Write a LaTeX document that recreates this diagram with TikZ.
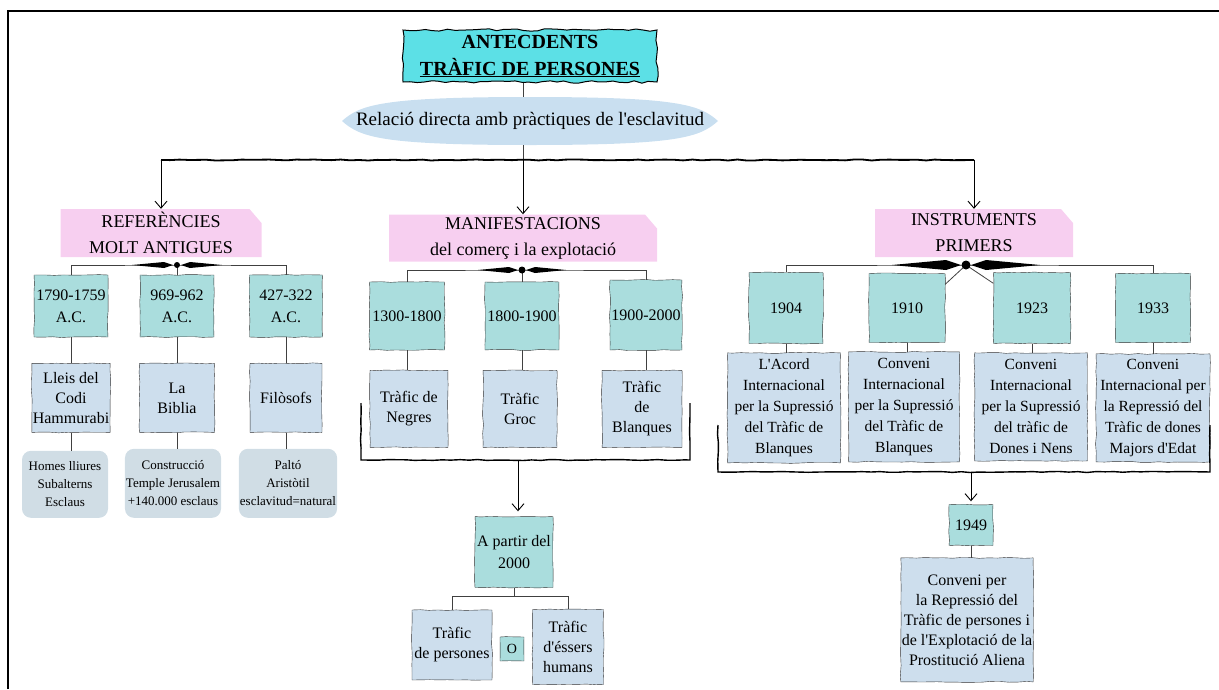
\documentclass[tikz,border=0pt]{standalone}
\usepackage{fontspec}
\setmainfont{Liberation Serif}
\usetikzlibrary{positioning}
\usetikzlibrary{arrows.meta}
\usetikzlibrary{decorations.pathmorphing}
\definecolor{titlecol}{RGB}{92,224,230}
\definecolor{lenscol}{RGB}{201,223,240}
\definecolor{headcol}{RGB}{247,207,240}
\definecolor{datecol}{RGB}{170,221,221}
\definecolor{desccol}{RGB}{205,222,237}
\definecolor{notecol}{RGB}{208,221,229}
\pgfmathsetseed{7}

\begin{document}
\begin{tikzpicture}[x=1pt, y=-1pt,
    sketch/.style = {decorate, decoration={random steps, segment length=9pt, amplitude=0.5pt}},
    title/.style = {draw, fill=titlecol, line width=1pt, decorate, decoration={random steps, segment length=7pt, amplitude=1.2pt}, minimum width=254pt, minimum height=52pt, inner sep=0pt, align=center, font=\bfseries\fontsize{20}{27}\selectfont},
    lens/.style = {minimum width=376pt, minimum height=48pt, inner sep=0pt, font=\fontsize{19}{22}\selectfont,
        path picture={\fill[lenscol] (path picture bounding box.west) .. controls ([xshift=18pt,yshift=16pt]path picture bounding box.west) and ([xshift=-150pt]path picture bounding box.north) .. (path picture bounding box.north) .. controls ([xshift=150pt]path picture bounding box.north) and ([xshift=-18pt,yshift=16pt]path picture bounding box.east) .. (path picture bounding box.east) .. controls ([xshift=-18pt,yshift=-16pt]path picture bounding box.east) and ([xshift=150pt]path picture bounding box.south) .. (path picture bounding box.south) .. controls ([xshift=-150pt]path picture bounding box.south) and ([xshift=18pt,yshift=-16pt]path picture bounding box.west) .. (path picture bounding box.west);}},
    head/.style = {inner sep=0pt, align=center, font=\fontsize{18}{26}\selectfont,
        path picture={\fill[headcol] (path picture bounding box.south west) -- (path picture bounding box.north west) -- ([xshift=-12pt]path picture bounding box.north east) -- ([yshift=-14pt]path picture bounding box.north east) -- (path picture bounding box.south east) -- cycle;}},
    date/.style = {draw=black!80, fill=datecol, sketch, inner sep=1pt, align=center, font=\fontsize{16}{22}\selectfont},
    desc/.style = {draw=black!80, fill=desccol, sketch, inner sep=1pt, align=center, font=\fontsize{16}{20}\selectfont},
    inst/.style = {desc, font=\fontsize{15.5}{21}\selectfont},
    note/.style = {fill=notecol, rounded corners=9pt, inner sep=1pt, align=center, font=\fontsize{13}{18}\selectfont},
    link/.style = {draw=black!75, line width=0.8pt},
    arr/.style = {-{Straight Barb[length=7pt,width=12pt]}, line width=0.9pt},
    bar/.style = {line width=1.8pt, sketch},
    brk/.style = {line width=1.4pt, sketch}]

    \useasboundingbox (0,0) rectangle (1219,689);
    \draw[line width=2.5pt] (8,689) -- (8,11) -- (1219,11);

    \node[title] (T) at (530,56) {ANTECDENTS\\\underline{TRÀFIC DE PERSONES}};
    \node[lens] (L) at (530,121) {Relació directa amb pràctiques de l\textquotesingle esclavitud};
    \coordinate (split) at (523,160);

    \node[head, minimum width=201pt, minimum height=48pt] (H1) at (161,233) {REFERÈNCIES\\MOLT ANTIGUES};
    \node[head, minimum width=268pt, minimum height=47pt] (H2) at (523,238) {MANIFESTACIONS\\del comerç i la explotació};
    \node[head, minimum width=198pt, minimum height=48pt] (H3) at (974,233) {INSTRUMENTS\\PRIMERS};

    \draw[link] (T.south -| split) -- (L.north -| split);
    \draw[link] (L.south -| split) -- (split);
    \draw[bar] (H1.north |- split) -- (H3.north |- split);
    \draw[arr] (H1.north |- split) -- (H1.north);
    \draw[arr] (split) -- (H2.north);
    \draw[arr] (H3.north |- split) -- (H3.north);

    \node[date, minimum width=74pt, minimum height=62pt] (D11) at (71,306) {1790-1759\\A.C.};
    \node[date, minimum width=74pt, minimum height=62pt] (D12) at (177,306) {969-962\\A.C.};
    \node[date, minimum width=73pt, minimum height=62pt] (D13) at (286,306) {427-322\\A.C.};
    \node[desc, minimum width=74pt, minimum height=69pt] (E11) [below=26pt of D11] {Lleis del\\Codi\\Hammurabi};
    \node[desc, minimum width=75pt, minimum height=69pt] (E12) [below=26pt of D12] {La\\Biblia};
    \node[desc, minimum width=72pt, minimum height=69pt] (E13) [below=26pt of D13] {Filòsofs};
    \node[note, minimum width=86pt, minimum height=67pt] (N11) [below=18pt of E11, xshift=-6pt] {Homes lliures\\Subalterns\\Esclaus};
    \node[note, minimum width=90pt, minimum height=69pt] (N12) [below=16pt of E12, xshift=-4pt] {Construcció\\Temple Jerusalem\\+140.000 esclaus};
    \node[note, minimum width=96pt, minimum height=69pt] (N13) [below=16pt of E13, xshift=2pt] {Paltó\\Aristòtil\\esclavitud=natural};

    \coordinate (h1) at (177,265);
    \draw[link] (D11.north) |- (h1) -| (D13.north);
    \draw[link] (h1) -- (D12.north);
    \fill ([xshift=-4pt]h1) -- ([xshift=-13pt,yshift=3pt]h1) -- ([xshift=-45pt]h1) -- ([xshift=-13pt,yshift=-3pt]h1) -- cycle;
    \fill ([xshift=4pt]h1) -- ([xshift=13pt,yshift=3pt]h1) -- ([xshift=45pt]h1) -- ([xshift=13pt,yshift=-3pt]h1) -- cycle;
    \fill (h1) circle (3pt);
    \draw[link] (D11) -- (E11);
    \draw[link] (D12) -- (E12);
    \draw[link] (D13) -- (E13);
    \draw[link] (E11.south) -- (E11.south |- N11.north);
    \draw[link] (E12.south) -- (E12.south |- N12.north);
    \draw[link] (E13.south) -- (E13.south |- N13.north);

    \node[date, minimum width=75pt, minimum height=68pt] (M1) at (407,316) {1300-1800};
    \node[date, minimum width=74pt, minimum height=68pt] (M2) at (522,316) {1800-1900};
    \node[date, minimum width=72pt, minimum height=70pt] (M3) at (646,315) {1900-2000};
    \node[desc, minimum width=78pt, minimum height=77pt] (G1) [below=20pt of M1, xshift=2pt] {Tràfic de\\Negres};
    \node[desc, minimum width=74pt, minimum height=77pt] (G2) [below=20pt of M2, xshift=-2pt] {Tràfic\\Groc};
    \node[desc, minimum width=80pt, minimum height=77pt] (G3) [below=20pt of M3, xshift=-4pt] {Tràfic\\de\\Blanques};

    \coordinate (h2) at (522,270);
    \draw[link] (M1.north) |- (h2) -| (M3.north);
    \draw[link] (h2) -- (M2.north);
    \fill ([xshift=-4pt]h2) -- ([xshift=-13pt,yshift=3pt]h2) -- ([xshift=-44pt]h2) -- ([xshift=-13pt,yshift=-3pt]h2) -- cycle;
    \fill ([xshift=4pt]h2) -- ([xshift=13pt,yshift=3pt]h2) -- ([xshift=44pt]h2) -- ([xshift=13pt,yshift=-3pt]h2) -- cycle;
    \fill (h2) circle (3.5pt);
    \draw[link] (M1.south) -- (M1.south |- G1.north);
    \draw[link] (M2.south) -- (M2.south |- G2.north);
    \draw[link] (M3.south) -- (M3.south |- G3.north);

    \draw[brk] (361,403) |- (690,460) -- (690,403);
    \coordinate (mb) at (518,460);

    \node[date, minimum width=78pt, minimum height=71pt] (A2) at (514,552) {A partir del\\2000};
    \draw[arr] (mb) -- ([yshift=5pt]mb |- A2.north);
    \node[desc, minimum width=80pt, minimum height=70pt] (P1) at (452,645) {Tràfic\\de persones};
    \node[desc, minimum width=71pt, minimum height=75pt] (P2) at (568,647) {Tràfic\\d\textquotesingle éssers\\humans};
    \node[date, minimum width=24pt, minimum height=24pt, font=\fontsize{14}{16}\selectfont] (O) at (512,649) {O};
    \draw[link] (A2.south) -- ++(0,9) coordinate (asp);
    \draw[link] (asp) -| (P1.north);
    \draw[link] (asp) -| (P2.north);

    \node[date, minimum width=74pt, minimum height=71pt] (I1) at (786,308) {1904};
    \node[date, minimum width=76pt, minimum height=69pt] (I2) at (907,308) {1910};
    \node[date, minimum width=77pt, minimum height=71pt] (I3) at (1032,308) {1923};
    \node[date, minimum width=75pt, minimum height=69pt] (I4) at (1153,308) {1933};
    \node[inst, minimum width=113pt, minimum height=110pt] (J1) [below=9pt of I1, xshift=-2pt] {L\textquotesingle Acord\\Internacional\\per la Supressió\\del Tràfic de\\Blanques};
    \node[inst, minimum width=111pt, minimum height=110pt] (J2) [below=9pt of I2, xshift=-3pt] {Conveni\\Internacional\\per la Supressió\\del Tràfic de\\Blanques};
    \node[inst, minimum width=113pt, minimum height=108pt] (J3) [below=9pt of I3, xshift=-1pt] {Conveni\\Internacional\\per la Supressió\\del tràfic de\\Dones i Nens};
    \node[inst, minimum width=114pt, minimum height=108pt] (J4) [below=11pt of I4] {Conveni\\Internacional per\\la Repressió del\\Tràfic de dones\\Majors d\textquotesingle Edat};

    \coordinate (h3) at (966,265);
    \draw[link] (I1.north) |- (h3) -| (I4.north);
    \draw[link] (h3) -- ([yshift=-11pt]I2.north east);
    \draw[link] (h3) -- ([yshift=-11pt]I3.north west);
    \fill ([xshift=-5pt]h3) -- ([xshift=-20pt,yshift=5pt]h3) -- ([xshift=-74pt]h3) -- ([xshift=-20pt,yshift=-5pt]h3) -- cycle;
    \fill ([xshift=5pt]h3) -- ([xshift=20pt,yshift=5pt]h3) -- ([xshift=74pt]h3) -- ([xshift=20pt,yshift=-5pt]h3) -- cycle;
    \fill (h3) circle (4.5pt);
    \draw[link] (I1.south) -- (I1.south |- J1.north);
    \draw[link] (I2.south) -- (I2.south |- J2.north);
    \draw[link] (I3.south) -- (I3.south |- J3.north);
    \draw[link] (I4.south) -- (I4.south |- J4.north);

    \draw[brk] (718,425) |- (1210,472) -- (1210,425);
    \coordinate (ib) at (971,472);

    \node[date, minimum width=44pt, minimum height=41pt] (Y49) at (971,525) {1949};
    \draw[arr] (ib) -- ([yshift=3pt]ib |- Y49.north);
    \node[desc, minimum width=126pt, minimum height=124pt] (C49) [below=12pt of Y49, xshift=-4pt] {Conveni per\\la Repressió del\\Tràfic de persones i\\de l\textquotesingle Explotació de la\\Prostitució Aliena};
    \draw[link] (Y49) -- (Y49 |- C49.north);
\end{tikzpicture}
\end{document}
